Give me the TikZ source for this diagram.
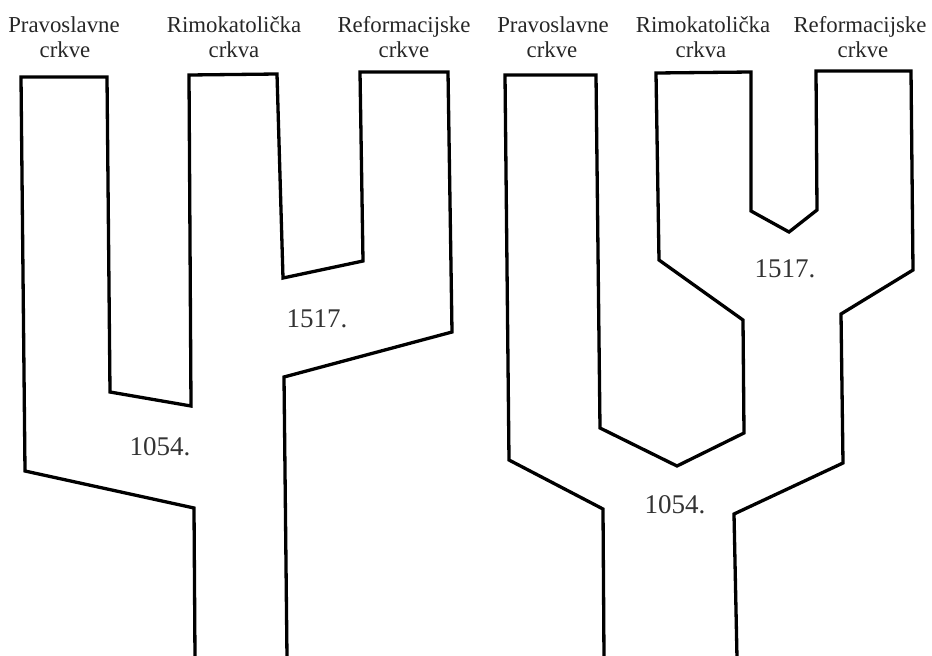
\documentclass[tikz,border=0pt]{standalone}
\usepackage{fontspec}
\setmainfont{Liberation Serif}
\begin{document}
\begin{tikzpicture}[x=1pt,y=-1pt,
  outline/.style={line width=3.3pt, black, line join=miter},
  title/.style={anchor=base, inner sep=0pt, font=\fontsize{22.8}{24}\selectfont, text=black!85},
  year/.style={anchor=base, inner sep=0pt, font=\fontsize{27}{30}\selectfont, text=black!80}]
\useasboundingbox (0,0) rectangle (932,656);
% left tree
\draw[outline] (195,658) -- (194,508) -- (25,471) -- (21,77) -- (107,77) -- (110,392) -- (191,406)
  -- (189,75) -- (277,74) -- (283,278) -- (363,261) -- (360,72) -- (448,72) -- (452,332)
  -- (284,377) -- (287,658);
% right tree
\draw[outline] (604,658) -- (603,509) -- (509,460) -- (505,75) -- (596,75) -- (600,428) -- (677,466)
  -- (744,433) -- (743,320) -- (659,260) -- (656,73) -- (751,72) -- (751,211) -- (789,232)
  -- (817,210) -- (816,71) -- (911,71) -- (913,270) -- (841,314) -- (843,463) -- (734,514)
  -- (737,658);
% titles
\node[title] (la1) at (64,32) {Pravoslavne};
\node[title] (la2) at (65,57) {crkve};
\node[title] (lb1) at (234,32) {Rimokatolička};
\node[title] (lb2) at (234,57) {crkva};
\node[title] (lc1) at (404,32) {Reformacijske};
\node[title] (lc2) at (404,57) {crkve};
\node[title] (ra1) at (553,32) {Pravoslavne};
\node[title] (ra2) at (552,57) {crkve};
\node[title] (rb1) at (703,32) {Rimokatolička};
\node[title] (rb2) at (701,57) {crkva};
\node[title] (rc1) at (860,32) {Reformacijske};
\node[title] (rc2) at (863,57) {crkve};
% years
\node[year] (ly1517) at (317,327) {1517.};
\node[year] (ly1054) at (160,455) {1054.};
\node[year] (ry1517) at (785,277) {1517.};
\node[year] (ry1054) at (675,513) {1054.};
\end{tikzpicture}
\end{document}
